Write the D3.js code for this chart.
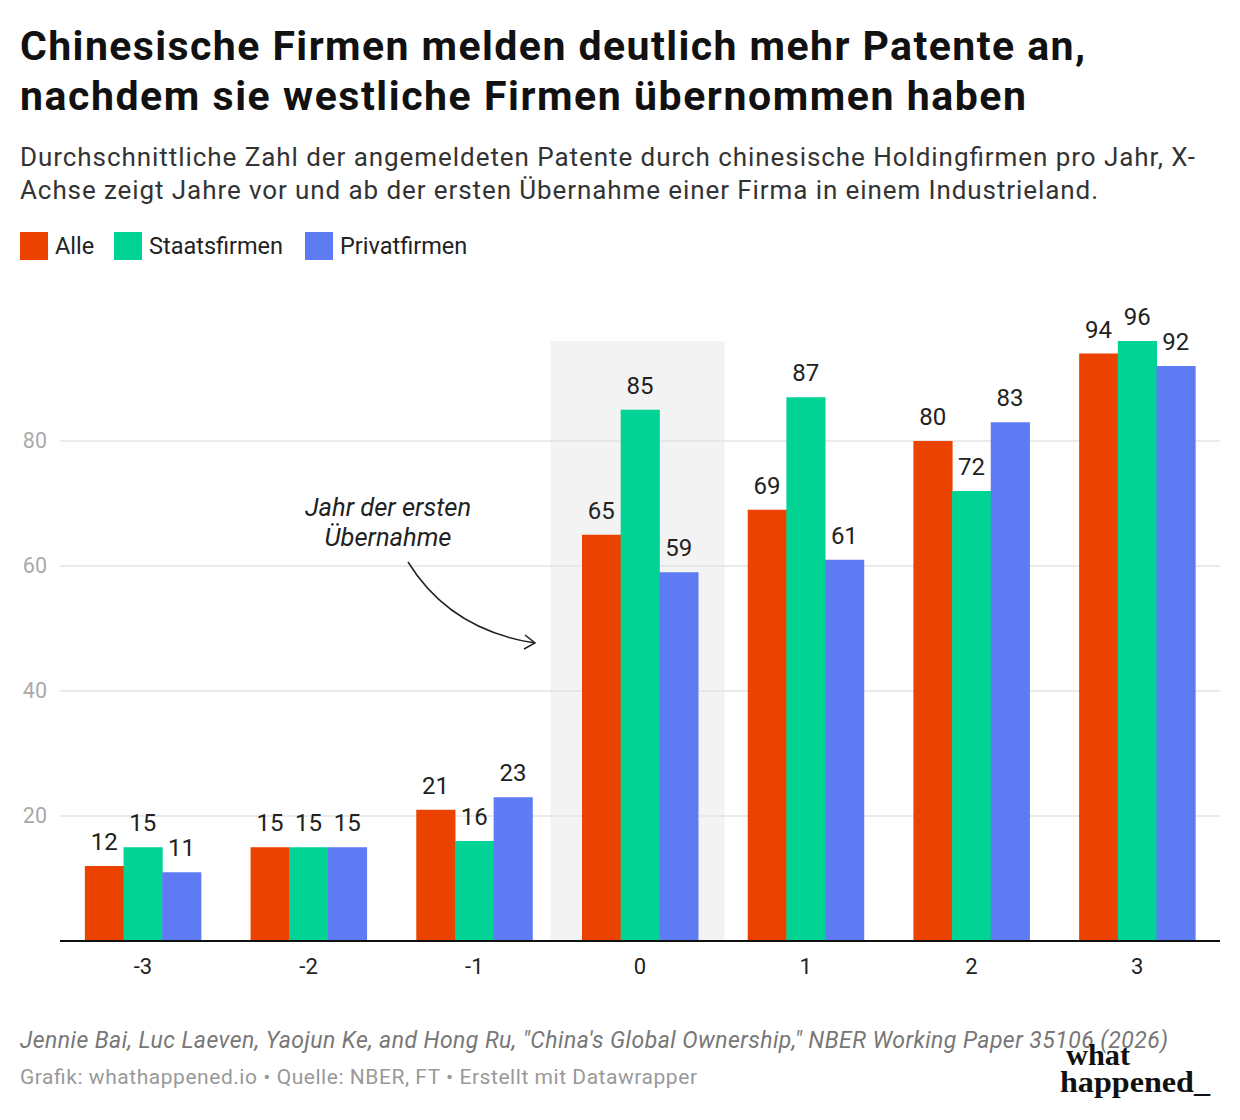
<!DOCTYPE html>
<html>
<head>
<meta charset="utf-8">
<script src="https://cdn.jsdelivr.net/npm/d3@7"></script>
<style>
  body { margin: 0; background: #fff; }
  svg { display: block; font-family: Roboto, "Noto Sans", sans-serif; }
</style>
</head>
<body>
<svg id="chart" width="1240" height="1120"></svg>
<script>
const years = ["-3", "-2", "-1", "0", "1", "2", "3"];
const series = ["Alle", "Staatsfirmen", "Privatfirmen"];
const alle = [12, 15, 21, 65, 69, 80, 94];
const staatsfirmen = [15, 15, 16, 85, 87, 72, 96];
const privatfirmen = [11, 15, 23, 59, 61, 83, 92];
const yTicks = [20, 40, 60, 80];
const highlightYear = "0";

const colors = ["#eb4200", "#00d393", "#5e7bf3"];
const values = [alle, staatsfirmen, privatfirmen];

const svg = d3.select("#chart");

// title + subtitle (textLength keeps the line widths of the original)
const titleLines = [
  ["Chinesische Firmen melden deutlich mehr Patente an,", 60, 1065],
  ["nachdem sie westliche Firmen übernommen haben", 110, 1006]
];
svg.append("g").selectAll("text")
  .data(titleLines)
  .join("text")
  .attr("x", 20).attr("y", d => d[1])
  .attr("font-size", 41).attr("font-weight", 700).attr("fill", "#111")
  .attr("textLength", d => d[2]).attr("lengthAdjust", "spacing")
  .text(d => d[0]);

const subLines = [
  ["Durchschnittliche Zahl der angemeldeten Patente durch chinesische Holdingfirmen pro Jahr, X-", 166, 1175],
  ["Achse zeigt Jahre vor und ab der ersten Übernahme einer Firma in einem Industrieland.", 199, 1078]
];
svg.append("g").selectAll("text")
  .data(subLines)
  .join("text")
  .attr("x", 20).attr("y", d => d[1])
  .attr("font-size", 26).attr("fill", "#333")
  .attr("textLength", d => d[2]).attr("lengthAdjust", "spacing")
  .text(d => d[0]);

// legend
const legendX = [20, 114, 305];
const legend = svg.append("g").selectAll("g")
  .data(series)
  .join("g")
  .attr("transform", (d, i) => `translate(${legendX[i]},232)`);
legend.append("rect")
  .attr("width", 28).attr("height", 28)
  .attr("fill", (d, i) => colors[i]);
legend.append("text")
  .attr("x", 35).attr("y", 22)
  .attr("font-size", 23.5).attr("fill", "#222")
  .text(d => d);

// scales
const x = d3.scaleBand()
  .domain(years)
  .range([60, 1220])
  .paddingInner(0.3)
  .paddingOuter(0.15);
const x1 = d3.scaleBand()
  .domain(series)
  .range([0, x.bandwidth()]);
const y = d3.scaleLinear()
  .domain([0, 96])
  .range([941, 341]);

// highlighted year
const step = x.step();
svg.append("rect")
  .attr("x", x(highlightYear) + x.bandwidth() / 2 - step * 0.54)
  .attr("y", y(96))
  .attr("width", step * 1.05)
  .attr("height", y(0) - y(96))
  .attr("fill", "#f3f3f3");

// grid
const grid = svg.append("g");
grid.selectAll("line")
  .data(yTicks)
  .join("line")
  .attr("x1", 60).attr("x2", 1220)
  .attr("y1", d => y(d)).attr("y2", d => y(d))
  .attr("stroke", "#e3e3e3").attr("stroke-width", 1.5);
grid.selectAll("text")
  .data(yTicks)
  .join("text")
  .attr("x", 47).attr("y", d => y(d) + 7)
  .attr("text-anchor", "end")
  .attr("font-size", 21.5).attr("fill", "#aaa")
  .text(d => d);

// bars
const groups = svg.append("g").selectAll("g")
  .data(years)
  .join("g")
  .attr("transform", d => `translate(${x(d)},0)`);

groups.selectAll("rect")
  .data((d, i) => series.map((s, j) => ({ s, j, v: values[j][i] })))
  .join("rect")
  .attr("x", d => x1(d.s))
  .attr("width", x1.bandwidth() + 0.5)
  .attr("y", d => y(d.v))
  .attr("height", d => y(0) - y(d.v))
  .attr("fill", d => colors[d.j]);

groups.selectAll("text")
  .data((d, i) => series.map((s, j) => ({ s, j, v: values[j][i] })))
  .join("text")
  .attr("x", d => x1(d.s) + x1.bandwidth() / 2)
  .attr("y", d => y(d.v) - 16)
  .attr("text-anchor", "middle")
  .attr("font-size", 24).attr("fill", "#222")
  .text(d => d.v);

// x axis
svg.append("line")
  .attr("x1", 60).attr("x2", 1220)
  .attr("y1", y(0)).attr("y2", y(0))
  .attr("stroke", "#111").attr("stroke-width", 2);
svg.append("g").selectAll("text")
  .data(years)
  .join("text")
  .attr("x", d => x(d) + x.bandwidth() / 2)
  .attr("y", 974)
  .attr("text-anchor", "middle")
  .attr("font-size", 22).attr("fill", "#222")
  .text(d => d);

// annotation
const note = svg.append("g")
  .attr("font-size", 25.5).attr("font-style", "italic").attr("fill", "#222")
  .attr("text-anchor", "middle");
note.append("text").attr("x", 388).attr("y", 516).text("Jahr der ersten");
note.append("text").attr("x", 388).attr("y", 546).text("Übernahme");

const arrowEnd = [535, 643];
svg.append("path")
  .attr("d", `M408,562 Q450,630 ${arrowEnd[0]},${arrowEnd[1]}`)
  .attr("fill", "none").attr("stroke", "#222").attr("stroke-width", 1.5);
svg.append("path")
  .attr("d", `M${arrowEnd[0] - 10},${arrowEnd[1] - 8} L${arrowEnd[0]},${arrowEnd[1]} L${arrowEnd[0] - 11},${arrowEnd[1] + 6}`)
  .attr("fill", "none").attr("stroke", "#222").attr("stroke-width", 1.5);

// footer
svg.append("text")
  .attr("x", 20).attr("y", 1048)
  .attr("font-size", 23).attr("font-style", "italic").attr("fill", "#777")
  .attr("textLength", 1148).attr("lengthAdjust", "spacing")
  .text("Jennie Bai, Luc Laeven, Yaojun Ke, and Hong Ru, \"China's Global Ownership,\" NBER Working Paper 35106 (2026)");
svg.append("text")
  .attr("x", 20).attr("y", 1084)
  .attr("font-size", 21).attr("fill", "#999")
  .attr("textLength", 677).attr("lengthAdjust", "spacing")
  .text("Grafik: whathappened.io  • Quelle: NBER, FT • Erstellt mit Datawrapper");

// logo
const logo = svg.append("g")
  .attr("font-family", "'Liberation Serif', 'DejaVu Serif', serif")
  .attr("font-weight", 700).attr("fill", "#111");
logo.append("text").attr("x", 1066).attr("y", 1065)
  .attr("font-size", 30).attr("textLength", 64).attr("lengthAdjust", "spacingAndGlyphs")
  .text("what");
logo.append("text").attr("x", 1060).attr("y", 1092)
  .attr("font-size", 30).attr("textLength", 150).attr("lengthAdjust", "spacingAndGlyphs")
  .text("happened_");
</script>
</body>
</html>
